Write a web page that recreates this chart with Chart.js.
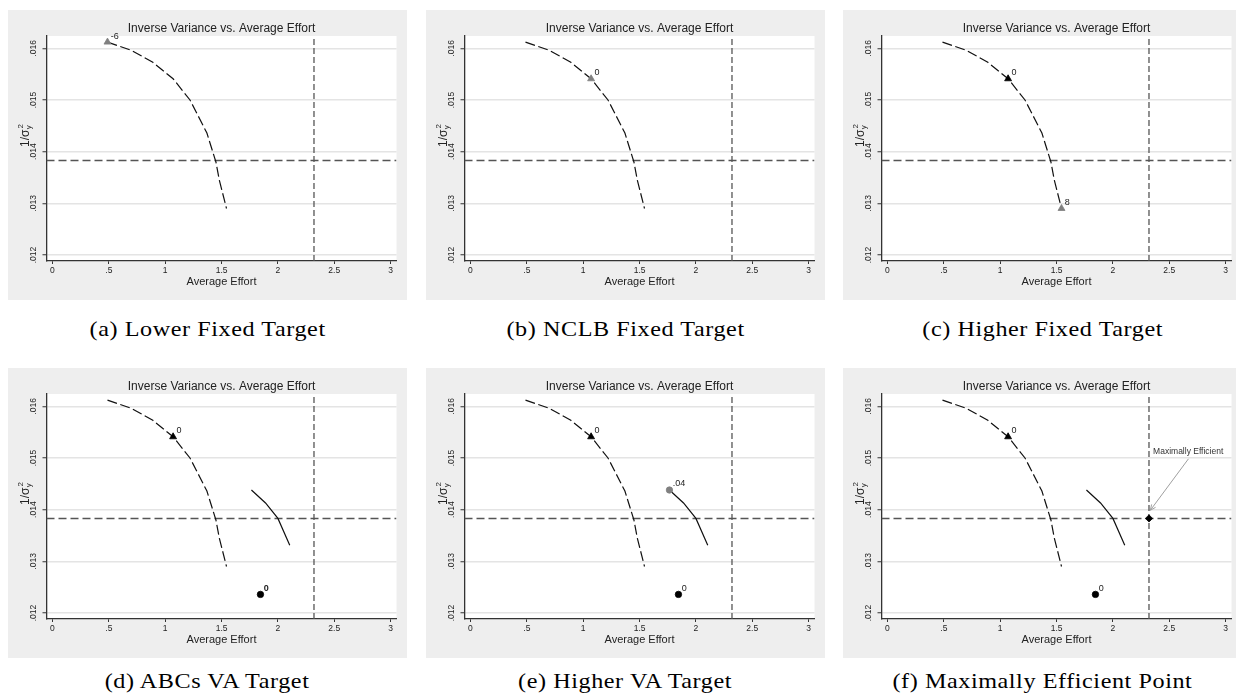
<!DOCTYPE html>
<html><head><meta charset="utf-8">
<script src="https://cdn.jsdelivr.net/npm/chart.js@4.4.0/dist/chart.umd.min.js"></script>
<style>
html,body{margin:0;padding:0;background:#fff;width:1236px;height:696px;overflow:hidden;position:relative;font-family:"Liberation Sans",Arial,sans-serif;}
.panel{position:absolute;width:399px;height:290px;background:#eeeeee;}
.panel canvas{display:block;}
.cap{position:absolute;width:400px;text-align:center;font-family:"Liberation Serif",serif;font-size:21px;color:#000;line-height:24px;height:24px;white-space:nowrap;}
.cap span{display:inline-block;transform:scaleX(1.15);letter-spacing:0.5px;}
</style></head><body>
<script>
// ---- data ----
const xTicks = [0, 0.5, 1, 1.5, 2, 2.5, 3];
const xTickLabels = ['0', '.5', '1', '1.5', '2', '2.5', '3'];
const yTicks = [0.012, 0.013, 0.014, 0.015, 0.016];
const yTickLabels = ['.012', '.013', '.014', '.015', '.016'];

// fixed-target frontier (dashed)
const fixedEffort = [0.488, 0.70, 0.89, 1.07, 1.22, 1.37, 1.45, 1.48, 1.544];
const fixedInvVar = [0.01612, 0.01596, 0.01573, 0.01541, 0.01500, 0.01436, 0.01380, 0.01345, 0.01290];

// value-added frontier (solid)
const vaEffort = [1.765, 1.89, 2.00, 2.105];
const vaInvVar = [0.01438, 0.01413, 0.01383, 0.01331];

// highlighted targets
const targetEffort = [0.488, 1.07, 1.544, 1.845, 1.765, 2.32];
const targetInvVar = [0.01612, 0.01541, 0.01290, 0.01236, 0.01438, 0.01383];
const targetLabels = ['-6', '0', '8', '0', '.04', ''];

// reference lines
const refEffort = 2.32;
const refInvVar = 0.01383;

const chartTitle = 'Inverse Variance vs. Average Effort';
const xTitle = 'Average Effort';
const captions = ['(a) Lower Fixed Target', '(b) NCLB Fixed Target', '(c) Higher Fixed Target',
                  '(d) ABCs VA Target', '(e) Higher VA Target', '(f) Maximally Efficient Point'];
const annotationText = 'Maximally Efficient';

// ---- layout / style ----
const X_MIN = -0.053, X_MAX = 3.052, Y_MIN = 0.011884, Y_MAX = 0.016238;
const GRAY = '#808080', BLACK = '#000000';
const lefts = [8, 426, 843], tops = [10, 368];
const capTops = [316.6, 668.6];

const panelSpecs = [
  {va:false, marks:[{i:0, c:GRAY, s:'triangle', r:4}]},
  {va:false, marks:[{i:1, c:GRAY, s:'triangle', r:4}]},
  {va:false, marks:[{i:1, c:BLACK, s:'triangle', r:4}, {i:2, c:GRAY, s:'triangle', r:4}]},
  {va:true, marks:[{i:1, c:BLACK, s:'triangle', r:4}, {i:3, c:BLACK, s:'circle', r:3.2, bold:true}]},
  {va:true, marks:[{i:1, c:BLACK, s:'triangle', r:4}, {i:3, c:BLACK, s:'circle', r:3.2}, {i:4, c:GRAY, s:'circle', r:3.2}]},
  {va:true, marks:[{i:1, c:BLACK, s:'triangle', r:4}, {i:3, c:BLACK, s:'circle', r:3.2}, {i:5, c:BLACK, s:'rectRot', r:3.6}],
   annot:{tx:2.668, ty:0.015118, fx:2.67, fy:0.014983, ax:2.332, ay:0.013988}}
];

const FONT = '"Liberation Sans", Arial, sans-serif';

const decor = {
  id:'decor',
  beforeDraw(chart){
    const {ctx, chartArea:a} = chart;
    ctx.save(); ctx.fillStyle = '#ffffff';
    ctx.fillRect(a.left, a.top, a.right - a.left, a.bottom - a.top);
    ctx.restore();
  },
  afterDatasetsDraw(chart){
    const ctx = chart.ctx;
    ctx.save();
    chart.data.datasets.forEach((ds, di) => {
      if (!ds.mlabel) return;
      const pt = chart.getDatasetMeta(di).data[0];
      ctx.font = (ds.mbold ? 'bold ' : '') + '9px ' + FONT;
      ctx.fillStyle = '#222';
      ctx.textAlign = 'left'; ctx.textBaseline = 'middle';
      ctx.fillText(ds.mlabel, pt.x + 3.3, pt.y - 6);
    });
    ctx.restore();
  },
  afterDraw(chart){
    const ctx = chart.ctx;
    // y-axis title 1/σ_y^2
    ctx.save();
    ctx.translate(20.5, 137);
    ctx.rotate(-Math.PI / 2);
    ctx.fillStyle = '#222';
    ctx.textBaseline = 'alphabetic'; ctx.textAlign = 'left';
    ctx.font = '12px ' + FONT;
    ctx.fillText('1/σ', 0, 0);
    const w = ctx.measureText('1/σ').width;
    ctx.font = '8px ' + FONT;
    ctx.fillText('y', w + 0.3, 2.8);
    ctx.fillText('2', w + 1.2, -5.6);
    ctx.restore();

    const an = chart.options.plugins.decor && chart.options.plugins.decor.annot;
    if (an) {
      const xs = chart.scales.x, ys = chart.scales.y;
      const fx = xs.getPixelForValue(an.fx), fy = ys.getPixelForValue(an.fy);
      const ax = xs.getPixelForValue(an.ax), ay = ys.getPixelForValue(an.ay);
      ctx.save();
      ctx.strokeStyle = '#a0a0a0'; ctx.lineWidth = 1;
      ctx.beginPath(); ctx.moveTo(fx, fy); ctx.lineTo(ax, ay); ctx.stroke();
      const ang = Math.atan2(ay - fy, ax - fx);
      const L = 6, sp = 0.42;
      ctx.beginPath();
      ctx.moveTo(ax - L * Math.cos(ang - sp), ay - L * Math.sin(ang - sp));
      ctx.lineTo(ax, ay);
      ctx.lineTo(ax - L * Math.cos(ang + sp), ay - L * Math.sin(ang + sp));
      ctx.stroke();
      ctx.fillStyle = '#333';
      ctx.font = '8.5px ' + FONT;
      ctx.textAlign = 'center'; ctx.textBaseline = 'middle';
      ctx.fillText(annotationText, xs.getPixelForValue(an.tx), ys.getPixelForValue(an.ty));
      ctx.restore();
    }
  }
};

function pts(xs, ys){ return xs.map((x, i) => ({x, y: ys[i]})); }

function build(k){
  const spec = panelSpecs[k];
  const col = k % 3, row = Math.floor(k / 3);
  const div = document.createElement('div');
  div.className = 'panel';
  div.style.left = lefts[col] + 'px'; div.style.top = tops[row] + 'px';
  const cv = document.createElement('canvas');
  cv.width = 399; cv.height = 290;
  cv.style.width = '399px'; cv.style.height = '290px';
  div.appendChild(cv);
  document.body.appendChild(div);

  const cap = document.createElement('div');
  cap.className = 'cap';
  cap.style.left = (lefts[col] + 199.5 - 200) + 'px';
  cap.style.top = capTops[row] + 'px';
  const sp = document.createElement('span'); sp.textContent = captions[k];
  cap.appendChild(sp);
  document.body.appendChild(cap);

  const datasets = [];
  spec.marks.forEach(m => datasets.push({
    data: [{x: targetEffort[m.i], y: targetInvVar[m.i]}],
    showLine: false, pointStyle: m.s, pointRadius: m.r,
    backgroundColor: m.c, borderColor: m.c, borderWidth: 0.8,
    mlabel: targetLabels[m.i], mbold: !!m.bold
  }));
  datasets.push({data: pts(fixedEffort, fixedInvVar), showLine: true, pointRadius: 0,
    borderColor: '#111', borderWidth: 1.2, borderDash: [10, 3.5], tension: 0, fill: false});
  if (spec.va) datasets.push({data: pts(vaEffort, vaInvVar), showLine: true, pointRadius: 0,
    borderColor: '#111', borderWidth: 1.2, tension: 0, fill: false});
  datasets.push({data: [{x: refEffort, y: Y_MIN}, {x: refEffort, y: Y_MAX}], showLine: true, pointRadius: 0,
    borderColor: '#555', borderWidth: 1.3, borderDash: [6, 3]});
  datasets.push({data: [{x: X_MIN, y: refInvVar}, {x: X_MAX, y: refInvVar}], showLine: true, pointRadius: 0,
    borderColor: '#555', borderWidth: 1.5, borderDash: [8, 4]});

  new Chart(cv, {
    type: 'scatter',
    data: {datasets},
    options: {
      responsive: false, animation: false, devicePixelRatio: 1,
      layout: {padding: {left: 0, right: 10.5, top: 0, bottom: 0}},
      plugins: {
        legend: {display: false}, tooltip: {enabled: false},
        title: {display: true, text: chartTitle, fullSize: false, color: '#222',
                font: {family: FONT, size: 12, weight: 'normal', lineHeight: 1.2},
                padding: {top: 11, bottom: 0.6}},
        decor: {annot: spec.annot || null}
      },
      scales: {
        x: {
          type: 'linear', min: X_MIN, max: X_MAX,
          afterBuildTicks: s => { s.ticks = xTicks.map(v => ({value: v})); },
          afterFit: s => { s.height = 39; },
          ticks: {autoSkip: false, maxRotation: 0, padding: 1.4, color: '#222',
                  font: {family: FONT, size: 8.5},
                  callback: v => xTickLabels[xTicks.indexOf(v)]},
          grid: {drawOnChartArea: false, drawTicks: true, tickLength: 3, tickColor: '#333', tickWidth: 1},
          border: {display: true, color: '#333', width: 1.3},
          title: {display: true, text: xTitle, color: '#222', font: {family: FONT, size: 11, lineHeight: 1.2},
                  padding: {top: 0, bottom: 11.7}}
        },
        y: {
          type: 'linear', min: Y_MIN, max: Y_MAX,
          afterBuildTicks: s => { s.ticks = yTicks.map(v => ({value: v})); },
          afterFit: s => { s.width = 38.5; },
          ticks: {autoSkip: false, minRotation: 90, maxRotation: 90, crossAlign: 'center', padding: 0.5,
                  color: '#222', font: {family: FONT, size: 8.5},
                  callback: v => yTickLabels[yTicks.indexOf(v)]},
          grid: {color: '#e4e4e4', lineWidth: 1.5, drawTicks: true, tickLength: 4, tickColor: '#333', tickWidth: 1},
          border: {display: true, color: '#333', width: 1.3}
        }
      }
    },
    plugins: [decor]
  });
}
for (let k = 0; k < 6; k++) build(k);
</script>
</body></html>
